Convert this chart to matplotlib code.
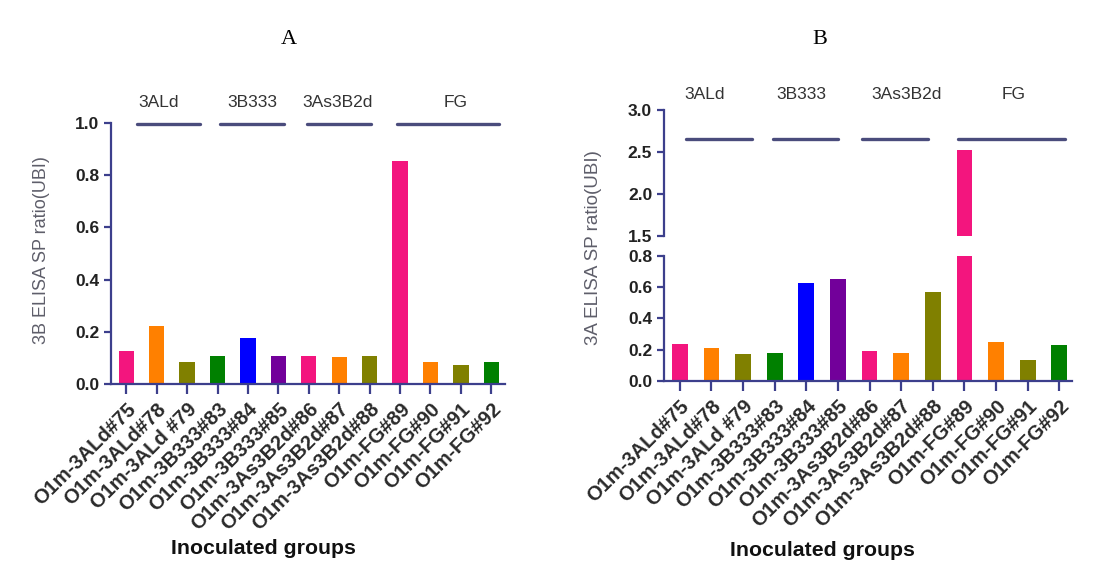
import matplotlib
matplotlib.use("Agg")
import matplotlib.pyplot as plt

plt.rcParams["font.family"] = ["Liberation Sans", "DejaVu Sans"]

# data
samples = [
    "O1m-3ALd#75", "O1m-3ALd#78", "O1m-3ALd #79",
    "O1m-3B333#83", "O1m-3B333#84", "O1m-3B333#85",
    "O1m-3As3B2d#86", "O1m-3As3B2d#87", "O1m-3As3B2d#88",
    "O1m-FG#89", "O1m-FG#90", "O1m-FG#91", "O1m-FG#92",
]
elisa_3b = [0.128, 0.221, 0.083, 0.109, 0.176, 0.109, 0.109, 0.105, 0.109, 0.856, 0.083, 0.073, 0.083]
elisa_3a = [0.236, 0.213, 0.170, 0.177, 0.623, 0.649, 0.194, 0.177, 0.566, 2.52, 0.247, 0.134, 0.230]
groups = ["3ALd", "3B333", "3As3B2d", "FG"]

bar_colors = [
    "#F3157E", "#FF8000", "#808000", "#008000", "#0000FF", "#72009A",
    "#F3157E", "#FF8000", "#808000", "#F3157E", "#FF8000", "#808000", "#008000",
]
axis_color = "#3C3F8C"
line_color = "#4A4C7C"

# group bar/label placement (x in bar units)
spans_a = [(0.36, 2.43), (3.08, 5.18), (5.93, 8.03), (8.89, 12.26)]
label_x_a = [1.08, 4.15, 6.94, 10.84]
spans_b = [(0.19, 2.28), (2.94, 5.0), (5.76, 7.85), (8.8, 12.18)]
label_x_b = [0.79, 3.85, 7.17, 10.54]

x = list(range(len(samples)))

fig = plt.figure(figsize=(10.95, 5.83), dpi=100)


def style_axis(ax, show_x=True):
    for side in ["top", "right"]:
        ax.spines[side].set_visible(False)
    for side in ["left", "bottom"]:
        ax.spines[side].set_color(axis_color)
        ax.spines[side].set_linewidth(1.6)
    ax.tick_params(axis="y", colors=axis_color, length=5, width=1.6,
                   labelsize=12.5, labelcolor="#222222")
    for t in ax.get_yticklabels():
        t.set_fontweight("bold")
    if show_x:
        ax.set_xticks(x)
        ax.set_xticklabels(samples, rotation=45, ha="right",
                           rotation_mode="anchor", fontsize=14.5,
                           fontweight="bold", color="#2a2a2a")
        ax.tick_params(axis="x", colors=axis_color, length=7, width=1.6,
                       labelcolor="#2a2a2a", pad=4)


# panel A
ax_a = fig.add_axes([0.1014, 0.3413, 0.3598, 0.4477])
ax_a.bar(x, elisa_3b, width=0.5, color=bar_colors)
ax_a.set_xlim(-0.5, 12.45)
ax_a.set_ylim(0, 1.0)
ax_a.set_yticks([0, 0.2, 0.4, 0.6, 0.8, 1.0])
ax_a.set_yticklabels(["0.0", "0.2", "0.4", "0.6", "0.8", "1.0"])
style_axis(ax_a)
for (x0, x1), lx, name in zip(spans_a, label_x_a, groups):
    ax_a.plot([x0, x1], [0.996, 0.996], color=line_color, lw=2.4,
              solid_capstyle="round", clip_on=False)
    ax_a.text(lx, 1.077, name, ha="center", va="center", fontsize=12.5,
              color="#333333")

# panel B (broken axis)
ax_b_lo = fig.add_axes([0.6064, 0.3465, 0.3726, 0.2149])
ax_b_hi = fig.add_axes([0.6064, 0.5957, 0.3726, 0.2156])
for ax in [ax_b_lo, ax_b_hi]:
    ax.bar(x, elisa_3a, width=0.5, color=bar_colors)
    ax.set_xlim(-0.5, 12.4)
ax_b_lo.set_ylim(0, 0.8)
ax_b_lo.set_yticks([0, 0.2, 0.4, 0.6, 0.8])
ax_b_lo.set_yticklabels(["0.0", "0.2", "0.4", "0.6", "0.8"])
ax_b_hi.set_ylim(1.5, 3.0)
ax_b_hi.set_yticks([1.5, 2.0, 2.5, 3.0])
ax_b_hi.set_yticklabels(["1.5", "2.0", "2.5", "3.0"])
style_axis(ax_b_lo)
style_axis(ax_b_hi, show_x=False)
ax_b_hi.spines["bottom"].set_visible(False)
ax_b_hi.set_xticks([])
for (x0, x1), lx, name in zip(spans_b, label_x_b, groups):
    ax_b_hi.plot([x0, x1], [2.65, 2.65], color=line_color, lw=2.4,
                 solid_capstyle="round", clip_on=False)
    ax_b_hi.text(lx, 3.18, name, ha="center", va="center", fontsize=12.5,
                 color="#333333")

# titles and axis labels
fig.text(289 / 1095, 1 - 40 / 583, "A", ha="center", va="center",
         fontsize=16, family="Liberation Serif")
fig.text(820 / 1095, 1 - 40 / 583, "B", ha="center", va="center",
         fontsize=16, family="Liberation Serif")
fig.text(42 / 1095, 1 - 250 / 583, "3B ELISA SP ratio(UBI)", rotation=90,
         ha="center", va="center", fontsize=13, color="#5e5e6a")
fig.text(593 / 1095, 1 - 248 / 583, "3A ELISA SP ratio(UBI)", rotation=90,
         ha="center", va="center", fontsize=13.5, color="#5e5e6a")
fig.text(263 / 1095, 1 - 548 / 583, "Inoculated groups", ha="center",
         va="center", fontsize=15.3, fontweight="bold", color="#111111")
fig.text(822 / 1095, 1 - 550 / 583, "Inoculated groups", ha="center",
         va="center", fontsize=15.3, fontweight="bold", color="#111111")

fig.savefig("out.png", dpi=100)
